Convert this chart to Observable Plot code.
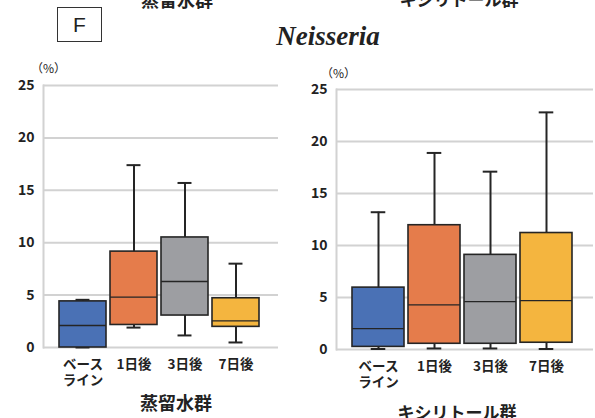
<!DOCTYPE html>
<html><head><meta charset="utf-8">
<script src="https://cdn.jsdelivr.net/npm/d3@7"></script>
<script src="https://cdn.jsdelivr.net/npm/@observablehq/plot@0.6"></script>
<style>
body{margin:0;background:#fff;}
#wrap{position:relative;width:595px;height:418px;overflow:hidden;background:#fff;font-family:"Noto Sans CJK JP","Noto Sans",sans-serif;color:#222;}
.abs{position:absolute;white-space:nowrap;}
.ctr{transform:translateX(-50%);}
</style></head>
<body><div id="wrap"></div>
<script>
const categories = ["ベース\nライン", "1日後", "3日後", "7日後"];
const boxColors = ["#4a71b5", "#e57c4b", "#9d9ea2", "#f4b53f"];
const yTicks = [0, 5, 10, 15, 20, 25];

// 蒸留水群
const waterMin = [0, 1.9, 1.15, 0.48];
const waterQ1  = [0, 2.15, 3.05, 1.97];
const waterMed = [2.1, 4.8, 6.3, 2.55];
const waterQ3  = [4.4, 9.15, 10.5, 4.7];
const waterMax = [4.55, 17.4, 15.7, 8.0];

// キシリトール群
const xylMin = [0.05, 0.1, 0.1, 0.05];
const xylQ1  = [0.25, 0.55, 0.55, 0.65];
const xylMed = [2.0, 4.3, 4.6, 4.7];
const xylQ3  = [5.95, 11.95, 9.1, 11.2];
const xylMax = [13.2, 18.9, 17.1, 22.8];

const wrap = document.getElementById("wrap");
function addText(txt, style, cls){
  const d = document.createElement("div");
  d.className = "abs " + (cls||"");
  d.textContent = txt;
  Object.assign(d.style, style);
  wrap.appendChild(d);
  return d;
}

function panel(mins, q1s, meds, q3s, maxs, o){
  const rows = categories.map((c,i)=>({cat:c, min:mins[i], q1:q1s[i], med:meds[i], q3:q3s[i], max:maxs[i]}));
  const band = d3.scaleBand().domain(categories)
    .range([o.marginLeft, o.width - o.marginRight])
    .paddingInner(o.pi).paddingOuter(o.po).align(o.align);
  const capInset = (band.bandwidth() - 15) / 2;
  const plot = Plot.plot({
    width: o.width, height: o.height,
    marginLeft: o.marginLeft, marginRight: o.marginRight,
    marginTop: o.marginTop, marginBottom: o.marginBottom,
    style: {fontFamily: '"Noto Sans CJK JP", sans-serif', color: "#222", background: "transparent", overflow: "visible"},
    x: {domain: categories, paddingInner: o.pi, paddingOuter: o.po, align: o.align, label: null, axis: null},
    y: {domain: [0, 25], label: null},
    color: {domain: categories, range: boxColors},
    marks: [
      Plot.ruleY(yTicks, {stroke: "#d2d2d2", strokeWidth: 2}),
      Plot.frame({anchor: "left", stroke: "#d2d2d2", strokeWidth: 2}),
      Plot.axisY({ticks: yTicks, tickSize: 0, tickPadding: 9, fontSize: 14, fontWeight: "bold", label: null}),
      Plot.text(categories, {x: d => d, text: d => d, frameAnchor: "bottom", lineAnchor: "top", dy: 10, lineHeight: 1.2, fontSize: 13.5, fontWeight: "bold", fill: "#222"}),
      Plot.ruleX(rows, {x: "cat", y1: "min", y2: "max", stroke: "#252525", strokeWidth: 2}),
      Plot.tickY(rows, {x: "cat", y: "max", stroke: "#252525", strokeWidth: 2, insetLeft: capInset, insetRight: capInset}),
      Plot.tickY(rows, {x: "cat", y: "min", stroke: "#252525", strokeWidth: 2, insetLeft: capInset, insetRight: capInset}),
      Plot.barY(rows, {x: "cat", y1: "q1", y2: "q3", fill: "cat", stroke: "#252525", strokeWidth: 1.6}),
      Plot.tickY(rows, {x: "cat", y: "med", stroke: "#252525", strokeWidth: 1.3})
    ]
  });
  plot.style.position = "absolute";
  plot.style.left = o.left + "px";
  plot.style.top = o.top + "px";
  wrap.appendChild(plot);
}

panel(waterMin, waterQ1, waterMed, waterQ3, waterMax,
  {left: 0, top: 65, width: 290, height: 330, marginLeft: 43, marginRight: 12, marginTop: 20, marginBottom: 48, pi: 0.075, po: 0.3, align: 0.45});
panel(xylMin, xylQ1, xylMed, xylQ3, xylMax,
  {left: 300, top: 70, width: 295, height: 330, marginLeft: 36, marginRight: 2, marginTop: 19, marginBottom: 51, pi: 0.067, po: 0.32, align: 0.43});

// Titles and labels
addText("蒸留水群", {left: "177px", top: "-10px", fontSize: "18px", fontWeight: "bold", lineHeight: "18px"}, "ctr");
addText("キシリトール群", {left: "459px", top: "-10px", fontSize: "17px", fontWeight: "bold", lineHeight: "18px"}, "ctr");
addText("F", {left: "57px", top: "7px", width: "43px", height: "33px", border: "1px solid #333", fontSize: "21px", lineHeight: "33px", textAlign: "center", fontFamily: "'Liberation Sans', Arial, sans-serif"});
addText("Neisseria", {left: "328px", top: "23px", fontSize: "27px", lineHeight: "27px", fontWeight: "bold", fontStyle: "italic", fontFamily: "'Liberation Serif', 'Times New Roman', serif"}, "ctr");
addText("（%）", {left: "31px", top: "61px", fontSize: "12px", lineHeight: "13px"});
addText("（%）", {left: "321px", top: "66px", fontSize: "12px", lineHeight: "13px"});
addText("蒸留水群", {left: "176px", top: "392px", fontSize: "18px", fontWeight: "bold", lineHeight: "20px"}, "ctr");
addText("キシリトール群", {left: "457px", top: "402px", fontSize: "17px", fontWeight: "bold", lineHeight: "20px"}, "ctr");
</script></body></html>
